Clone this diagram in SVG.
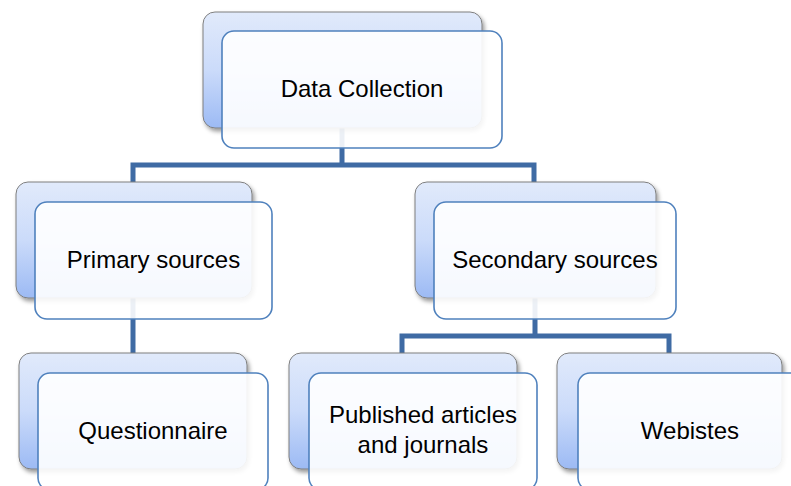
<svg xmlns="http://www.w3.org/2000/svg" width="791" height="486" viewBox="0 0 791 486">
<style>
.back{fill:url(#g);stroke:#7f7f7f;stroke-width:1}
.front{fill:#ffffff;fill-opacity:0.9;stroke:#4f81bd;stroke-width:1.6}
.lbl{font-family:"Liberation Sans",Arial,sans-serif;font-size:24px;fill:#000;text-anchor:middle}
.con{fill:none;stroke:#3f6ba4;stroke-width:5}
</style>
<defs>
<linearGradient id="g" x1="0" y1="0" x2="0" y2="1">
<stop offset="0" stop-color="#e1eafb"/>
<stop offset="0.5" stop-color="#cbdbfa"/>
<stop offset="1" stop-color="#9cbaf4"/>
</linearGradient>
<filter id="sh" x="-10%" y="-10%" width="125%" height="130%">
<feDropShadow dx="2" dy="3" stdDeviation="2" flood-color="#000" flood-opacity="0.4"/>
</filter>
</defs>
<rect width="791" height="486" fill="#ffffff"/>
<g id="connectors">
<path class="con" d="M342,128 V165 M133,182 V165 H534 V182"/>
<path class="con" d="M133,298 V353"/>
<path class="con" d="M535,298 V336 M402,354 V336 H669 V354"/>
</g>
<g id="n-data-collection">
<rect class="back" filter="url(#sh)" x="203" y="12" width="279" height="116" rx="12"/>
<rect class="front" x="222" y="31" width="280" height="117" rx="12"/>
<text class="lbl" x="362" y="97">Data Collection</text>
</g>
<g id="n-primary">
<rect class="back" filter="url(#sh)" x="16" y="182" width="236" height="116" rx="12"/>
<rect class="front" x="35" y="202" width="237" height="117" rx="12"/>
<text class="lbl" x="153.5" y="268">Primary sources</text>
</g>
<g id="n-secondary">
<rect class="back" filter="url(#sh)" x="415" y="182" width="241" height="116" rx="12"/>
<rect class="front" x="434" y="202" width="242" height="117" rx="12"/>
<text class="lbl" x="555" y="268">Secondary sources</text>
</g>
<g id="n-questionnaire">
<rect class="back" filter="url(#sh)" x="19" y="353" width="228" height="116" rx="12"/>
<rect class="front" x="38" y="373" width="230" height="117" rx="12"/>
<text class="lbl" x="153" y="439">Questionnaire</text>
</g>
<g id="n-published">
<rect class="back" filter="url(#sh)" x="289" y="353" width="228" height="116" rx="12"/>
<rect class="front" x="309" y="373" width="228" height="117" rx="12"/>
<text class="lbl" x="423" y="423">Published articles</text>
<text class="lbl" x="423" y="453">and journals</text>
</g>
<g id="n-websites">
<rect class="back" filter="url(#sh)" x="557" y="353" width="225" height="116" rx="12"/>
<rect class="front" x="578" y="373" width="224" height="117" rx="12"/>
<text class="lbl" x="690" y="439">Webistes</text>
</g>
</svg>
